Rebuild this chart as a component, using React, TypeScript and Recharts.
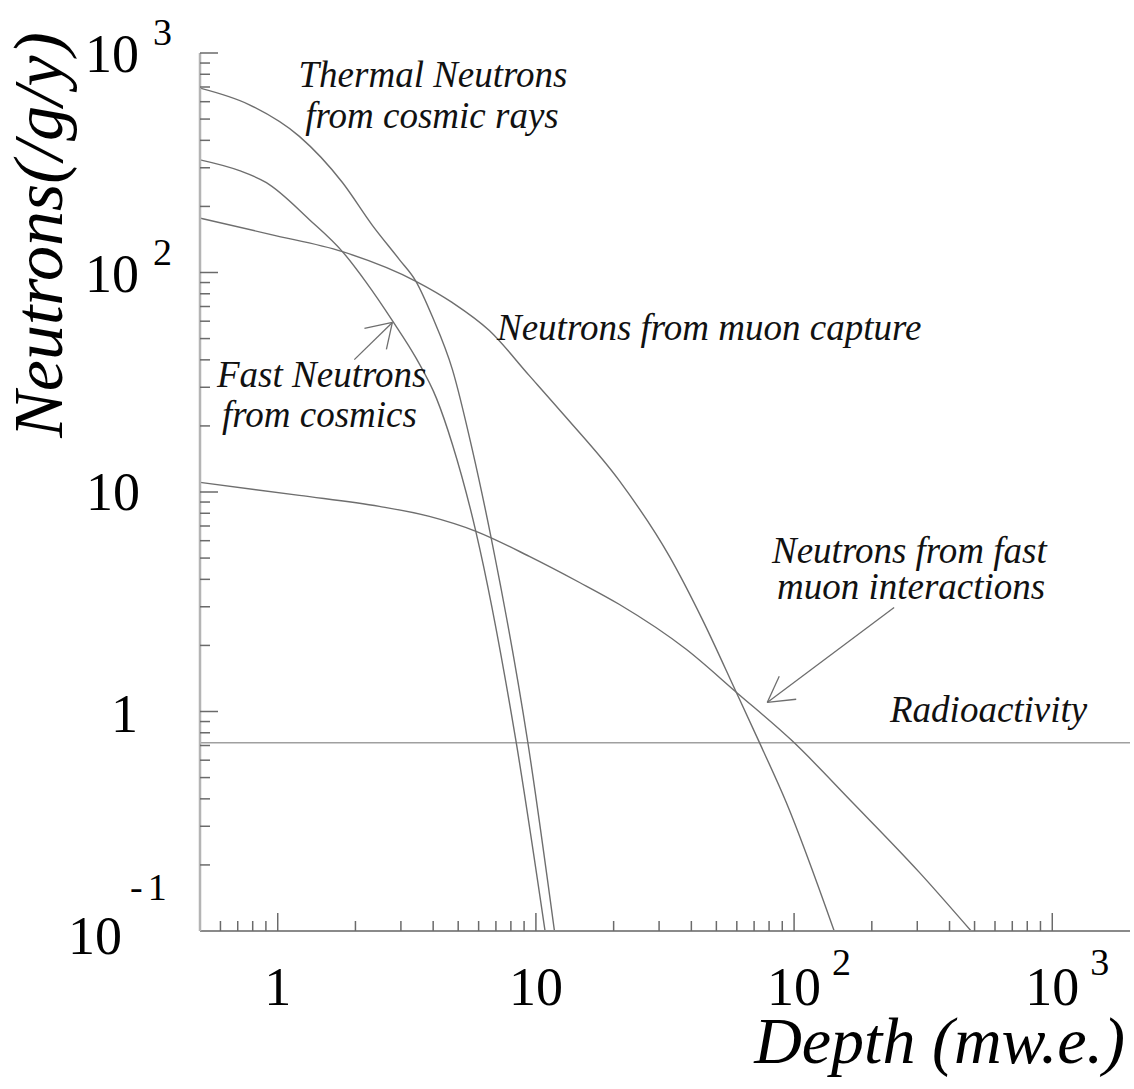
import React from 'react';
import { LineChart, Line, XAxis, YAxis, ReferenceLine } from 'recharts';

// ---- data (log-log) ----
const thermalNeutrons = [
  { x: 0.5, y: 692 }, { x: 0.777, y: 581 }, { x: 1.213, y: 417 }, { x: 1.781, y: 257 },
  { x: 2.326, y: 164 }, { x: 2.96, y: 114.5 }, { x: 3.43, y: 91.2 }, { x: 3.97, y: 63 },
  { x: 4.75, y: 36.1 }, { x: 5.67, y: 15.6 }, { x: 6.7, y: 6.23 }, { x: 9.29, y: 0.732 },
  { x: 11.8, y: 0.1 },
];
const fastNeutrons = [
  { x: 0.5, y: 326 }, { x: 0.711, y: 291 }, { x: 0.904, y: 256.6 }, { x: 1.327, y: 174.1 },
  { x: 1.781, y: 124.5 }, { x: 2.205, y: 90 }, { x: 2.78, y: 60.4 }, { x: 3.44, y: 40.6 },
  { x: 4.12, y: 26.7 }, { x: 4.75, y: 16.47 }, { x: 5.86, y: 6.57 }, { x: 8.37, y: 0.734 },
  { x: 10.85, y: 0.1 },
];
const muonCapture = [
  { x: 0.5, y: 177 }, { x: 0.943, y: 148.8 }, { x: 1.781, y: 124.5 }, { x: 3.43, y: 91.2 },
  { x: 4.75, y: 72.9 }, { x: 6.6, y: 54.4 }, { x: 9.43, y: 33.9 }, { x: 12.9, y: 22.3 },
  { x: 21.0, y: 11.29 }, { x: 32.9, y: 5.09 }, { x: 44.1, y: 2.63 }, { x: 59.7, y: 1.224 },
  { x: 73.3, y: 0.725 }, { x: 93.2, y: 0.386 }, { x: 143, y: 0.1 },
];
const fastMuon = [
  { x: 0.5, y: 11.06 }, { x: 1.213, y: 9.65 }, { x: 2.475, y: 8.6 }, { x: 3.866, y: 7.74 },
  { x: 5.86, y: 6.62 }, { x: 9.43, y: 5.09 }, { x: 14.7, y: 3.88 }, { x: 21.0, y: 3.08 },
  { x: 38.2, y: 1.92 }, { x: 59.7, y: 1.224 }, { x: 98.3, y: 0.735 }, { x: 168, y: 0.386 },
  { x: 305, y: 0.1855 }, { x: 485, y: 0.1 },
];
const radioactivity = [{ x: 0.5, y: 0.72 }, { x: 2000, y: 0.72 }];

// arrows (data coordinates): [tail, tip, head1, head2]
const fastArrow = [{ x: 1.98, y: 40.1 }, { x: 2.78, y: 59.2 }, { x: 2.167, y: 55.6 }, { x: 2.636, y: 44.6 }];
const muonArrow = [{ x: 244, y: 2.98 }, { x: 78.7, y: 1.1 }, { x: 87.6, y: 1.448 }, { x: 101.9, y: 1.137 }];

// ---- ticks ----
const xMajorTicks = [1, 10, 100, 1000];
const xMinorTicks = [0.6, 0.7, 0.8, 0.9, 2, 3, 4, 5, 6, 7, 8, 9, 20, 30, 40, 50, 60, 70, 80, 90, 200, 300, 400, 500, 600, 700, 800, 900];
const yMajorTicks = [0.1, 1, 10, 100, 1000];
const yMinorTicks = [0.2, 0.3, 0.4, 0.5, 0.6, 0.7, 0.8, 0.9, 2, 3, 4, 5, 6, 7, 8, 9, 20, 30, 40, 50, 60, 70, 80, 90, 200, 300, 400, 500, 600, 700, 800, 900];
const xTickLabels: Record<number, [string, string]> = { 1: ['1', ''], 10: ['10', ''], 100: ['10', '2'], 1000: ['10', '3'] };
const yTickLabels: Record<number, [string, string]> = { 0.1: ['10', '-1'], 1: ['1', ''], 10: ['10', ''], 100: ['10', '2'], 1000: ['10', '3'] };

const xTicks = [...xMajorTicks, ...xMinorTicks].sort((a, b) => a - b);
const yTicks = [...yMajorTicks, ...yMinorTicks].sort((a, b) => a - b);

const SERIF = '"Liberation Serif", "Times New Roman", serif';
const TICK_COLOR = '#6a6a6a';
const CURVE_COLOR = '#6e6e6e';
const MANT_SIZE = 54;
const EXP_SIZE = 38;

const XTick = (props: any) => {
  const { x, y, payload } = props;
  const v = payload.value;
  const major = xMajorTicks.includes(v);
  const lab = xTickLabels[v];
  const mantW = lab ? lab[0].length * MANT_SIZE * 0.5 : 0;
  return (
    <g>
      <line x1={x} x2={x} y1={y} y2={y - (major ? 18 : 10)} stroke={TICK_COLOR} strokeWidth={1.5} />
      {major && lab && (
        <text x={x - mantW / 2} y={y + 74} fontFamily={SERIF} fill="#000" fontSize={MANT_SIZE} textAnchor="start">
          <tspan>{lab[0]}</tspan>
          {lab[1] && (
            <tspan dx={38 - mantW / 2} dy={-30} fontSize={EXP_SIZE}>{lab[1]}</tspan>
          )}
        </text>
      )}
    </g>
  );
};

const YTick = (props: any) => {
  const { x, y, payload } = props;
  const v = payload.value;
  const major = yMajorTicks.includes(v);
  const lab = yTickLabels[v];
  let mantEnd = x - 61;
  let baseDy = 19;
  let expStart = x - 47;
  let expDy = -8;
  if (v === 0.1) { mantEnd = x - 78; baseDy = 23; expStart = x - 70; expDy = -31; }
  if (v === 1) { mantEnd = x - 62; baseDy = 20; }
  if (v === 10) { mantEnd = x - 60; baseDy = 18; }
  const mantW = lab ? lab[0].length * MANT_SIZE * 0.5 : 0;
  return (
    <g>
      {v !== 0.1 && (
        <line x1={x} x2={x + (major ? 18 : 10)} y1={y} y2={y} stroke={TICK_COLOR} strokeWidth={1.5} />
      )}
      {major && lab && (
        <text x={mantEnd - mantW} y={y + baseDy} fontFamily={SERIF} fill="#000" fontSize={MANT_SIZE} textAnchor="start">
          <tspan>{lab[0]}</tspan>
          {lab[1] && (
            <tspan dx={expStart - mantEnd} dy={expDy - baseDy} fontSize={EXP_SIZE} letterSpacing={v === 0.1 ? 5 : 0}>
              {lab[1]}
            </tspan>
          )}
        </text>
      )}
    </g>
  );
};

const annotations = [
  { lines: ['Thermal Neutrons', 'from cosmic rays'], xs: [433, 432], ys: [87, 128], anchor: 'middle' },
  { lines: ['Fast Neutrons', 'from cosmics'], xs: [217, 222], ys: [387, 427], anchor: 'start' },
  { lines: ['Neutrons from muon capture'], xs: [497], ys: [340], anchor: 'start' },
  { lines: ['Neutrons from fast', 'muon interactions'], xs: [772, 777], ys: [563, 599], anchor: 'start' },
  { lines: ['Radioactivity'], xs: [890], ys: [722], anchor: 'start' },
];

const arrowLines = (a: { x: number; y: number }[], key: string) => [
  <ReferenceLine key={key + '0'} segment={[a[0], a[1]]} stroke={CURVE_COLOR} strokeWidth={1.3} ifOverflow="visible" />,
  <ReferenceLine key={key + '1'} segment={[a[2], a[1]]} stroke={CURVE_COLOR} strokeWidth={1.3} ifOverflow="visible" />,
  <ReferenceLine key={key + '2'} segment={[a[3], a[1]]} stroke={CURVE_COLOR} strokeWidth={1.3} ifOverflow="visible" />,
];

const series = [thermalNeutrons, fastNeutrons, muonCapture, fastMuon];

export default function App() {
  return (
    <div style={{ position: 'absolute', left: 0, top: 0, width: 1134, height: 1089, background: '#fff' }}>
      <LineChart width={1134} height={1089} margin={{ top: 53, right: 4, bottom: 0, left: 0 }}>
        <XAxis
          dataKey="x"
          type="number"
          scale="log"
          domain={[0.5, 2000]}
          allowDataOverflow
          ticks={xTicks}
          interval={0}
          tickSize={0}
          tickMargin={0}
          tickLine={false}
          tick={(p: any) => <XTick {...p} />}
          axisLine={{ stroke: '#8a8a8a', strokeWidth: 1.8 }}
          height={158}
        />
        <YAxis
          dataKey="y"
          type="number"
          scale="log"
          domain={[0.1, 1000]}
          allowDataOverflow
          ticks={yTicks}
          interval={0}
          tickSize={0}
          tickMargin={0}
          tickLine={false}
          tick={(p: any) => <YTick {...p} />}
          axisLine={{ stroke: '#b4b4b4', strokeWidth: 2.5 }}
          width={200}
        />
        <Line data={radioactivity} dataKey="y" type="linear" stroke="#a0a0a0" strokeWidth={1.5} dot={false} activeDot={false} isAnimationActive={false} />
        {series.map((d, i) => (
          <Line key={i} data={d} dataKey="y" type="monotone" stroke={CURVE_COLOR} strokeWidth={1.4} dot={false} activeDot={false} isAnimationActive={false} />
        ))}
        {arrowLines(fastArrow, 'fa')}
        {arrowLines(muonArrow, 'ma')}
      </LineChart>
      <svg width={1134} height={1089} style={{ position: 'absolute', left: 0, top: 0, pointerEvents: 'none' }}>
        <g fontFamily={SERIF} fontStyle="italic" fill="#111" fontSize={37}>
          {annotations.map((a, i) => (
            <text key={i} textAnchor={a.anchor as any}>
              {a.lines.map((ln, j) => (
                <tspan key={j} x={a.xs[j]} y={a.ys[j]}>{ln}</tspan>
              ))}
            </text>
          ))}
        </g>
        <text x={0} y={0} transform="translate(62,235) rotate(-90)" textAnchor="middle" fontFamily={SERIF} fontStyle="italic" fontSize={70} fill="#000">
          Neutrons(/g/y)
        </text>
        <text x={1125} y={1063} textAnchor="end" fontFamily={SERIF} fontStyle="italic" fontSize={66} fill="#000">
          Depth (mw.e.)
        </text>
      </svg>
    </div>
  );
}
